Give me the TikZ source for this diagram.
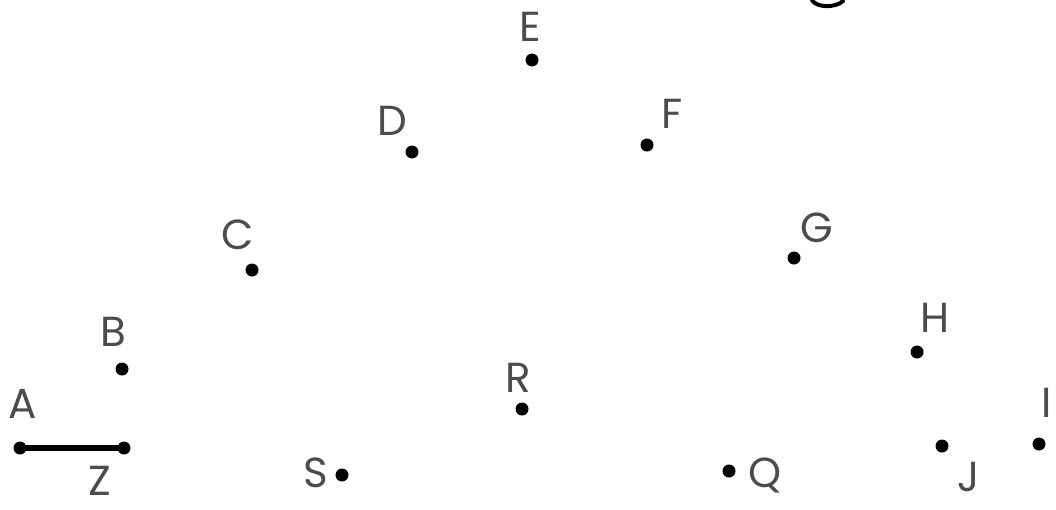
\documentclass[tikz,border=0pt]{standalone}
\usepackage{fontspec}
\setmainfont{Poppins}
\begin{document}
\begin{tikzpicture}[x=1pt,y=-1pt,
  dot/.style={circle,fill=black,inner sep=0pt,minimum size=13pt},
  lbl/.style={inner sep=0pt,text=black!70,font=\fontsize{42}{42}\selectfont}]
\useasboundingbox (0,0) rectangle (1056,509);
% points
\node[dot] (A) at (20,448) {};
\node[dot] (Z) at (124,448) {};
\node[dot] (B) at (122,369) {};
\node[dot] (C) at (252,270) {};
\node[dot] (D) at (412,152) {};
\node[dot] (E) at (532,60) {};
\node[dot] (F) at (647,145) {};
\node[dot] (G) at (794,258) {};
\node[dot] (H) at (917,352) {};
\node[dot] (I) at (1039,444) {};
\node[dot] (J) at (942,446) {};
\node[dot] (Q) at (729,471) {};
\node[dot] (R) at (522,409) {};
\node[dot] (S) at (342,475) {};
% labels
\node[lbl] (lA) at (23,404) {A};
\node[lbl] (lZ) at (100,481) {Z};
\node[lbl] (lB) at (113,332) {B};
\node[lbl] (lC) at (238,235) {C};
\node[lbl] (lD) at (392,121) {D};
\node[lbl] (lE) at (530,27) {E};
\node[lbl] (lF) at (672,114) {F};
\node[lbl] (lG) at (817,228) {G};
\node[lbl] (lH) at (935,318) {H};
\node[lbl] (lI) at (1047,403) {I};
\node[lbl] (lJ) at (969,477) {J};
\node[lbl] (lQ) at (765,475) {Q};
\node[lbl] (lR) at (518,378) {R};
\node[lbl] (lS) at (316,473) {S};
% segment AZ
\draw[line width=5.5pt] (A.center) -- (Z.center);
% fragment at top
\draw[line width=4pt,line cap=round] (812,0) .. controls (816,8) and (836,8) .. (843,1);
\end{tikzpicture}
\end{document}
